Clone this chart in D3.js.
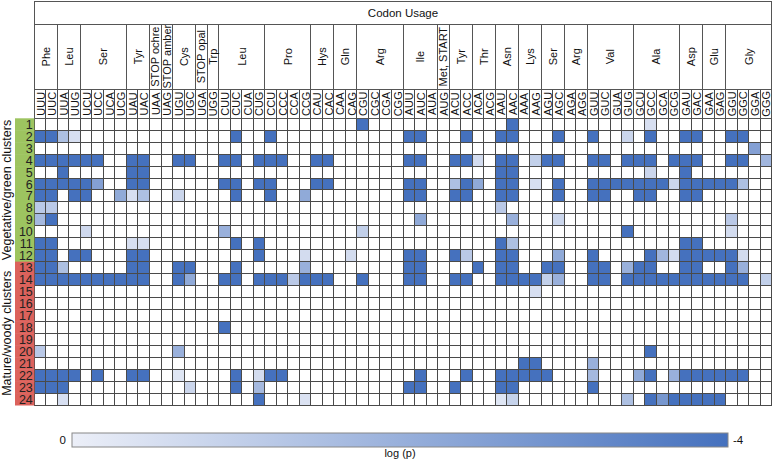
<!DOCTYPE html>
<html>
<head>
<meta charset="utf-8">
<script src="https://cdn.jsdelivr.net/npm/d3@7/dist/d3.min.js"></script>
<style>
  body { margin: 0; background: #fff; }
  text { font-family: Arial, "Liberation Sans", sans-serif; fill: #111; }
</style>
</head>
<body>
<div id="chart"></div>
<script>
// codon usage per cluster, log(p) heatmap
const width = 774;
const height = 462;

const codons = ['UUU','UUC','UUA','UUG','UCU','UCC','UCA','UCG','UAU','UAC','UAA','UAG','UGU','UGC','UGA','UGG',
                'CUU','CUC','CUA','CUG','CCU','CCC','CCA','CCG','CAU','CAC','CAA','CAG','CGU','CGC','CGA','CGG',
                'AUU','AUC','AUA','AUG','ACU','ACC','ACA','ACG','AAU','AAC','AAA','AAG','AGU','AGC','AGA','AGG',
                'GUU','GUC','GUA','GUG','GCU','GCC','GCA','GCG','GAU','GAC','GAA','GAG','GGU','GGC','GGA','GGG'];

const aaNames = ['Phe','Leu','Ser','Tyr','STOP ochre','STOP amber','Cys','STOP opal','Trp','Leu','Pro','Hys','Gln','Arg',
                 'Ile','Met, START','Tyr','Thr','Asn','Lys','Ser','Arg','Val','Ala','Asp','Glu','Gly'];
const aaSpans = [2,2,4,2,1,1,2,1,1,4,4,2,2,4,3,1,2,2,2,2,2,2,4,4,2,2,4];

const clusters = d3.range(1, 25).map(String);
const groupNames = ['Vegetative/green clusters', 'Mature/woody clusters'];
const groupSizes = [12, 12];

// significant cells per cluster: [codon, log(p)]
const clusterValues = [
  [['CGU',-4],['AAC',-4],['GCC',-0.5]],
  [['UUU',-4],['UUC',-4],['UUA',-1.5],['UUG',-0.5],['CUC',-4],['CCU',-4],['AUU',-4],['AUC',-4],['ACC',-4],['AAU',-4],['AAC',-4],
   ['AGC',-4],['GUU',-4],['GUG',-0.8],['GCC',-4],['GAU',-4],['GAC',-4],['GGU',-4],['GGC',-4]],
  [['GGA',-2.5]],
  [['UUU',-4],['UUC',-4],['UUA',-4],['UUG',-4],['UCU',-4],['UCC',-4],['UAU',-4],['UAC',-4],['UGU',-4],['UGC',-4],['CUU',-4],['CUC',-4],
   ['CUG',-4],['CCU',-4],['CCC',-4],['CAU',-4],['CAC',-4],['AUU',-4],['AUC',-4],['ACU',-4],['ACC',-4],['ACA',-0.6],['AAU',-4],['AAC',-4],
   ['AAG',-1],['AGU',-4],['AGC',-4],['GUU',-4],['GUC',-4],['GUG',-4],['GCU',-4],['GCC',-4],['GCG',-4],['GAU',-4],['GAC',-4],['GGU',-4],
   ['GGC',-4],['GGG',-1.8]],
  [['UUA',-4],['UAU',-4],['UAC',-4],['AAU',-4],['AAC',-4],['GCC',-0.8],['GAU',-4]],
  [['UUU',-4],['UUC',-4],['UUA',-4],['UUG',-4],['UCU',-4],['UCC',-2.5],['UAU',-4],['UAC',-4],['CUU',-4],['CUC',-4],['CUG',-4],['CCU',-4],
   ['CAU',-4],['CAC',-4],['AUU',-4],['AUC',-4],['ACU',-1.5],['ACC',-4],['ACA',-2.2],['AAU',-4],['AAC',-4],['AAG',-0.5],['AGC',-4],
   ['GUU',-4],['GUC',-4],['GUA',-4],['GUG',-4],['GCU',-4],['GCC',-4],['GCA',-4],['GCG',-0.8],['GAU',-4],['GAC',-4],['GAA',-4],['GAG',-4],
   ['GGU',-4],['GGC',-1.5]],
  [['UUU',-4],['UUC',-4],['UUG',-4],['UCU',-4],['UCG',-2.2],['UAU',-0.5],['UAC',-1.5],['UGU',-0.8],['CUC',-4],['CCU',-4],['CCG',-2.2],
   ['AUU',-4],['AUC',-4],['ACU',-4],['ACC',-4],['AAU',-4],['AAC',-4],['AGC',-4],['GUU',-4],['GUC',-4],['GCU',-4],['GCC',-4],['GAU',-4],['GAC',-4]],
  [['UUU',-1.2],['UUC',-1.2],['AAU',-1.2]],
  [['UUU',-1.7],['UUC',-4],['AUC',-2.2],['AAC',-2],['AGC',-0.8],['GGU',-1.2]],
  [['UCU',-0.7],['CUU',-2],['CGU',-1],['GUG',-4],['GGU',-0.6]],
  [['UUU',-4],['UUC',-4],['UAU',-0.5],['UAC',-0.5],['CUC',-4],['CUG',-4],['AAU',-4],['AAC',-1.5],['GAU',-4],['GAC',-4]],
  [['UUU',-4],['UUC',-4],['UUG',-4],['UCU',-4],['UAU',-4],['UAC',-4],['CUG',-4],['CCG',-0.6],['CAG',-0.6],['AUU',-4],['AUC',-4],
   ['ACU',-4],['ACC',-1.2],['AAU',-4],['AAC',-4],['AGC',-2.2],['GUU',-4],['GCC',-4],['GCA',-1.8],['GCG',-0.6],['GAU',-4],['GAC',-4],
   ['GAA',-4],['GAG',-4],['GGU',-4],['GGC',-0.6]],
  [['UUU',-4],['UUC',-4],['UUA',-1.5],['UAU',-4],['UAC',-4],['UGU',-4],['UGC',-4],['CUC',-4],['CCG',-2],['AUU',-4],['AUC',-4],
   ['ACA',-4],['AAU',-4],['AAC',-4],['AGU',-4],['AGC',-4],['GUU',-4],['GUC',-4],['GUG',-2],['GCU',-4],['GCC',-4],['GAU',-4],['GAC',-4],
   ['GGU',-4],['GGC',-2]],
  [['UUU',-4],['UUC',-4],['UUA',-4],['UUG',-4],['UCU',-4],['UCC',-4],['UCA',-4],['UCG',-4],['UAU',-4],['UAC',-4],['UGU',-4],['UGC',-2.2],
   ['CUU',-4],['CUC',-4],['CUG',-4],['CCU',-4],['CCC',-4],['CCA',-1.2],['CCG',-4],['CAU',-4],['CAC',-4],['CGU',-4],['AUU',-4],['AUC',-4],
   ['ACU',-4],['ACC',-4],['AAU',-4],['AAC',-4],['AAA',-4],['AAG',-4],['AGU',-1],['AGC',-2],['GUU',-4],['GUC',-4],['GUG',-4],['GCU',-4],
   ['GCC',-4],['GCA',-4],['GCG',-4],['GAU',-4],['GAC',-4],['GAA',-4],['GAG',-4],['GGU',-4],['GGC',-4],['GGG',-1]],
  [['AAG',-0.5]],
  [],
  [],
  [['CUU',-4]],
  [],
  [['UUU',-1.2],['UGU',-2],['GCC',-4]],
  [['AAA',-4],['AAG',-4],['GUU',-2]],
  [['UUU',-4],['UUC',-4],['UUA',-4],['UUG',-4],['UCC',-4],['UAU',-4],['UAC',-4],['UGU',-0.3],['CUC',-4],['CUG',-0.6],['CCU',-4],['CCC',-4],
   ['AUC',-4],['ACC',-4],['AAU',-4],['AAC',-4],['AAA',-4],['AAG',-4],['AGU',-4],['GUU',-1.7],['GCU',-2.2],['GCC',-4],['GCG',-2],
   ['GAU',-4],['GAC',-4],['GAA',-4],['GAG',-4],['GGU',-4],['GGC',-4]],
  [['UUU',-4],['UUC',-4],['UUA',-4],['UGC',-0.8],['CUC',-4],['CUG',-1.7],['AUU',-4],['AUC',-4],['ACU',-4],['AAU',-4],['AAC',-4],['GUU',-4]],
  [['UUA',-0.5],['CUG',-4],['CCG',-0.4],['AAU',-0.3],['AAC',-0.9],['GUG',-1.5],['GCC',-4],['GCA',-2.8],['GCG',-4],['GAU',-4],['GAC',-4],
   ['GAA',-4],['GAG',-4]]
];

const legendTicks = ['0', '-4'];

const grid = {left: 34.3, right: 771.7, top: 118.3, bottom: 405};
const header = {top: 1.7, titleBottom: 24, aaBottom: 89.3};

const x = d3.scaleBand().domain(codons).range([grid.left, grid.right]);
const y = d3.scaleBand().domain(clusters).range([grid.top, grid.bottom]);
const color = d3.scaleLinear().domain([0, -4]).range(['#eceff8', '#4571be']).clamp(true);

const svg = d3.select('#chart').append('svg')
  .attr('width', width).attr('height', height);

// cells
const cells = clusterValues.flatMap((row, i) => row.map(([c, v]) => ({cluster: clusters[i], codon: c, value: v})));
svg.append('g')
  .selectAll('rect').data(cells).enter().append('rect')
  .attr('x', d => x(d.codon))
  .attr('y', d => y(d.cluster))
  .attr('width', x.bandwidth())
  .attr('height', y.bandwidth())
  .attr('fill', d => color(d.value));

// grid lines
const lines = svg.append('g').attr('stroke', '#4a4a4a').attr('stroke-width', 1).attr('shape-rendering', 'crispEdges');
lines.selectAll('.v').data(codons.concat(['end'])).enter().append('line')
  .attr('x1', (d, i) => grid.left + i * x.bandwidth())
  .attr('x2', (d, i) => grid.left + i * x.bandwidth())
  .attr('y1', header.aaBottom).attr('y2', grid.bottom);
lines.selectAll('.h').data(clusters.concat(['end'])).enter().append('line')
  .attr('x1', grid.left).attr('x2', grid.right)
  .attr('y1', (d, i) => grid.top + i * y.bandwidth())
  .attr('y2', (d, i) => grid.top + i * y.bandwidth());

// header box
const head = svg.append('g').attr('stroke', '#555').attr('fill', 'none').attr('shape-rendering', 'crispEdges');
head.append('rect').attr('x', grid.left).attr('y', header.top)
  .attr('width', grid.right - grid.left).attr('height', grid.top - header.top);
head.append('line').attr('x1', grid.left).attr('x2', grid.right).attr('y1', header.titleBottom).attr('y2', header.titleBottom);
head.append('line').attr('x1', grid.left).attr('x2', grid.right).attr('y1', header.aaBottom).attr('y2', header.aaBottom);

svg.append('text')
  .attr('x', (grid.left + grid.right) / 2).attr('y', (header.top + header.titleBottom) / 2)
  .attr('text-anchor', 'middle').attr('dominant-baseline', 'central')
  .style('font-size', '11.5px').text('Codon Usage');

// amino acid groups
const aaGroups = [];
let start = 0;
aaNames.forEach((n, i) => { aaGroups.push({name: n, from: codons[start], to: codons[start + aaSpans[i] - 1]}); start += aaSpans[i]; });

head.selectAll('.aa').data(aaGroups).enter().append('line')
  .attr('x1', d => x(d.from)).attr('x2', d => x(d.from))
  .attr('y1', header.titleBottom).attr('y2', header.aaBottom);

const aaMid = (header.titleBottom + header.aaBottom) / 2;
svg.append('g').selectAll('text').data(aaGroups).enter().append('text')
  .attr('transform', d => `translate(${(x(d.from) + x(d.to) + x.bandwidth()) / 2},${aaMid}) rotate(-90)`)
  .attr('text-anchor', 'middle').attr('dominant-baseline', 'central')
  .style('font-size', '11px').text(d => d.name);

// codon labels
const codonMid = (header.aaBottom + grid.top) / 2;
svg.append('g').selectAll('text').data(codons).enter().append('text')
  .attr('transform', d => `translate(${x(d) + x.bandwidth() / 2 + 0.5},${codonMid}) rotate(-90)`)
  .attr('text-anchor', 'middle').attr('dominant-baseline', 'central')
  .style('font-size', '11px').text(d => d);

// cluster strip
const stripX = 15;
svg.append('g').selectAll('rect').data(clusters).enter().append('rect')
  .attr('x', stripX).attr('y', d => y(d))
  .attr('width', grid.left - stripX).attr('height', y.bandwidth() + 0.5)
  .attr('fill', (d, i) => i < groupSizes[0] ? '#9dc460' : '#dc625c');

svg.append('g').selectAll('text').data(clusters).enter().append('text')
  .attr('x', grid.left - 1.5).attr('y', d => y(d) + y.bandwidth() / 2 + 0.5)
  .attr('text-anchor', 'end').attr('dominant-baseline', 'central')
  .style('font-size', '12.5px').style('fill', '#222').text(d => d);

let offset = 0;
groupNames.forEach((g, i) => {
  const y0 = y(clusters[offset]);
  const y1 = y(clusters[offset + groupSizes[i] - 1]) + y.bandwidth();
  svg.append('text')
    .attr('transform', `translate(7,${(y0 + y1) / 2}) rotate(-90)`)
    .attr('text-anchor', 'middle').attr('dominant-baseline', 'central')
    .style('font-size', '12.5px').text(g);
  offset += groupSizes[i];
});

// legend
const legend = {x0: 72, x1: 728, y: 433, h: 14};
const defs = svg.append('defs');
const grad = defs.append('linearGradient').attr('id', 'lg');
grad.append('stop').attr('offset', '0%').attr('stop-color', color(0));
grad.append('stop').attr('offset', '100%').attr('stop-color', color(-4));

const lx = d3.scaleLinear().domain([0, -4]).range([legend.x0, legend.x1]);
svg.append('rect')
  .attr('x', lx(0)).attr('y', legend.y)
  .attr('width', lx(-4) - lx(0)).attr('height', legend.h)
  .attr('fill', 'url(#lg)').attr('stroke', '#888');

svg.append('g').selectAll('text').data(legendTicks).enter().append('text')
  .attr('x', d => d === '0' ? lx(0) - 6 : lx(-4) + 5)
  .attr('y', legend.y + legend.h / 2)
  .attr('text-anchor', d => d === '0' ? 'end' : 'start')
  .attr('dominant-baseline', 'central')
  .style('font-size', '11.5px').text(d => d);

svg.append('text')
  .attr('x', (legend.x0 + legend.x1) / 2).attr('y', 457)
  .attr('text-anchor', 'middle')
  .style('font-size', '11px').text('log (p)');
</script>
</body>
</html>
